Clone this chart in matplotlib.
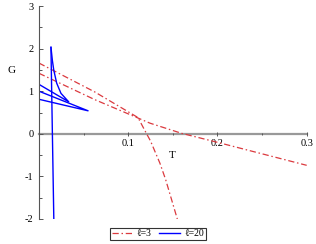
import matplotlib
matplotlib.use("Agg")
import matplotlib.pyplot as plt
from matplotlib.ticker import MultipleLocator, FixedLocator

plt.rcParams['font.family'] = ['Liberation Serif', 'DejaVu Serif']
plt.rcParams['axes.unicode_minus'] = False

# l = 3 (red, dash-dot)
red_upper_T = [0.0, 0.0627, 0.111, 0.115, 0.1206, 0.125, 0.1355, 0.142, 0.155]
red_upper_G = [1.66, 0.98, 0.38, 0.22, 0.0, -0.17, -0.69, -1.08, -2.0]
red_lower_T = [0.0, 0.0627, 0.111, 0.1243, 0.16, 0.2, 0.25, 0.3]
red_lower_G = [1.42, 0.80, 0.37, 0.25, 0.01, -0.2, -0.47, -0.74]

# l = 20 (blue, solid)
blue_vert_T = [0.0134, 0.0150, 0.0166]
blue_vert_G = [2.03, 0.0, -2.0]
blue_curve_T = [0.0134, 0.0150, 0.0165, 0.0198, 0.0246, 0.0333, 0.0]
blue_curve_G = [2.03, 1.72, 1.5, 1.19, 0.95, 0.75, 1.16]
blue_wedge_T = [0.0, 0.055, 0.0]
blue_wedge_G = [1.0, 0.54, 0.81]

x_major = [0.1, 0.2, 0.3]
x_labels = ["0.1", "0.2", "0.3"]
y_major = [-2, -1, 0, 1, 2, 3]

red = '#db3a3f'
blue = '#0000ff'

fig = plt.figure(figsize=(3.16, 2.44), dpi=100)
ax = fig.add_axes([39 / 316, 1 - 219 / 244, (306.7 - 39) / 316, (219 - 6) / 244])

dash = (5, 2.2, 1.2, 2.2)
l1, = ax.plot(red_upper_T, red_upper_G, color=red, lw=0.9, dashes=dash, label='ℓ=3')
ax.plot(red_lower_T, red_lower_G, color=red, lw=0.9, dashes=dash)
l2, = ax.plot(blue_vert_T, blue_vert_G, color=blue, lw=1.0, label='ℓ=20')
ax.plot(blue_curve_T, blue_curve_G, color=blue, lw=1.0)
ax.plot(blue_wedge_T, blue_wedge_G, color=blue, lw=1.0)

ax.set_xlim(0, 0.3)
ax.set_ylim(-2, 3)

for s in ['top', 'right']:
    ax.spines[s].set_visible(False)
ax.spines['bottom'].set_position(('data', 0))
ax.spines['bottom'].set_color('#999999')
ax.spines['bottom'].set_linewidth(1.6)
ax.spines['left'].set_color('#555555')
ax.spines['left'].set_linewidth(0.8)
ax.spines['bottom'].set_zorder(0)

ax.xaxis.set_major_locator(FixedLocator(x_major))
ax.set_xticklabels(x_labels)
ax.xaxis.set_minor_locator(MultipleLocator(0.05))
ax.yaxis.set_major_locator(FixedLocator(y_major))
ax.set_yticklabels([str(v) for v in y_major])
ax.yaxis.set_minor_locator(MultipleLocator(0.5))

ax.tick_params(axis='x', which='both', direction='inout', color='#555555',
               labelsize=7.5, pad=2)
ax.tick_params(axis='x', which='major', length=3, width=0.7)
ax.tick_params(axis='x', which='minor', length=2, width=0.7)
ax.tick_params(axis='y', which='both', direction='in', color='#555555',
               labelsize=7.5, pad=4)
ax.tick_params(axis='y', which='major', length=3, width=0.7)
ax.tick_params(axis='y', which='minor', length=2, width=0.7)

fig.text(12 / 316, 1 - 71 / 244, 'G', fontsize=8, ha='center', va='center')
ax.text(0.149, -0.52, 'T', fontsize=8, ha='center', va='center')

leg = fig.legend(handles=[l1, l2], loc='center', ncol=2,
                 bbox_to_anchor=(158 / 316, 1 - 234 / 244), fontsize=7,
                 frameon=True, fancybox=False, handlelength=2.1,
                 handletextpad=0.5, columnspacing=0.8, borderpad=0.2,
                 borderaxespad=0)
leg.get_frame().set_edgecolor('black')
leg.get_frame().set_linewidth(0.8)

fig.savefig('out.png', dpi=100)
